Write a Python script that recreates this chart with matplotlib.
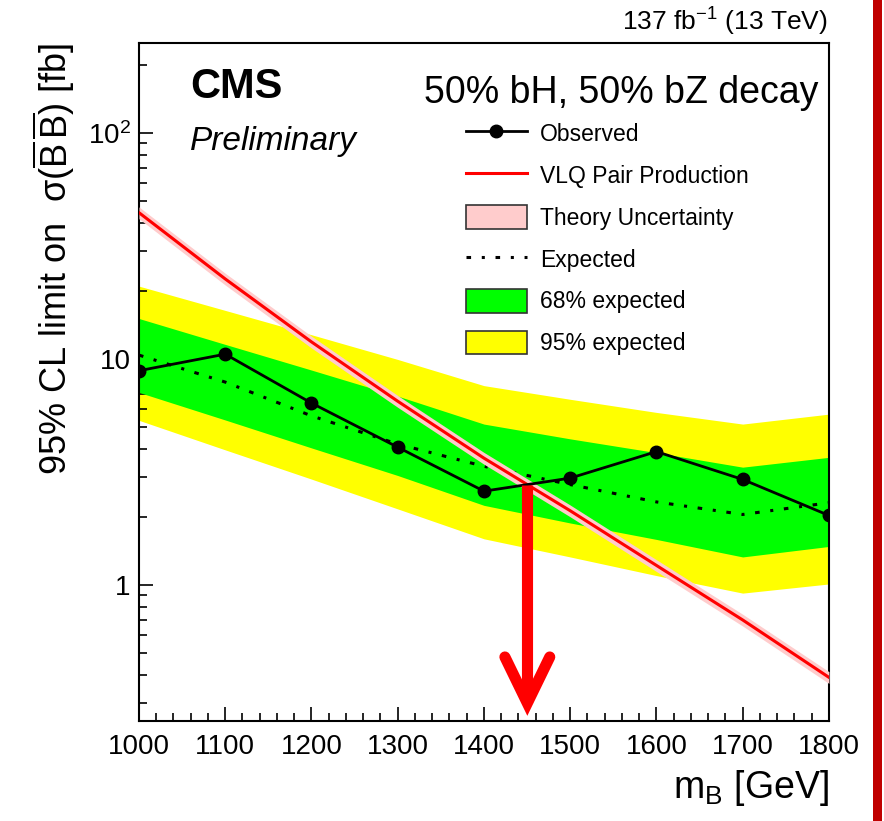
import numpy as np
import matplotlib
matplotlib.use("Agg")
import matplotlib.pyplot as plt
from matplotlib.lines import Line2D
from matplotlib.patches import Patch, Rectangle
from matplotlib.ticker import MultipleLocator, LogLocator, NullFormatter

plt.rcParams['font.family'] = ['Liberation Sans', 'DejaVu Sans']
plt.rcParams['mathtext.fontset'] = 'custom'
plt.rcParams['mathtext.rm'] = 'Liberation Sans'
plt.rcParams['mathtext.it'] = 'Liberation Sans:italic'
plt.rcParams['mathtext.bf'] = 'Liberation Sans:bold'

# B quark mass points [GeV]
masses = [1000, 1100, 1200, 1300, 1400, 1500, 1600, 1700, 1800]
# limits in fb
observed = [8.87, 10.5, 6.38, 4.07, 2.60, 2.97, 3.89, 2.93, 2.03]
expected = [10.4, 7.9, 5.6, 4.2, 3.35, 2.78, 2.33, 2.05, 2.31]
band68_lo = [7.11, 5.37, 4.04, 3.05, 2.25, 1.88, 1.59, 1.33, 1.48]
band68_hi = [15.1, 11.6, 8.93, 6.85, 5.15, 4.43, 3.85, 3.32, 3.67]
band95_lo = [5.35, 3.96, 2.94, 2.17, 1.60, 1.33, 1.10, 0.92, 1.01]
band95_hi = [21.0, 16.4, 12.8, 9.95, 7.62, 6.63, 5.80, 5.15, 5.70]
theory = [44.4, 22.6, 11.9, 6.5, 3.64, 2.13, 1.22, 0.70, 0.39]
theory_unc = 0.06  # relative

m = np.array(masses, dtype=float)
obs = np.array(observed)
th = np.array(theory)

fig = plt.figure(figsize=(8.84, 8.21), dpi=100)
ax = fig.add_axes([0.1572, 0.1218, 0.7805, 0.8258])

# bands
ax.fill_between(m, band95_lo, band95_hi, color='#ffff00', lw=0, zorder=1)
ax.fill_between(m, band68_lo, band68_hi, color='#00ff00', lw=0, zorder=2)
ax.plot(m, expected, color='black', lw=2.2, ls=(0, (1.5, 3.5, 1, 3.5)), zorder=3)

# theory
ax.fill_between(m, th * (1 - theory_unc), th * (1 + theory_unc), color='#ffcccc', lw=0, zorder=4)
ax.plot(m, th, color='#ff0000', lw=2.2, zorder=5)

# observed
ax.plot(m, obs, color='black', lw=2.0, marker='o', ms=9, zorder=6)

# crossing of observed and theory (log-linear interpolation)
d = np.log(obs) - np.log(th)
i = np.where((d[:-1] < 0) & (d[1:] > 0))[0][0]
f = -d[i] / (d[i + 1] - d[i])
x_lim = m[i] + f * (m[i + 1] - m[i])
y_lim = np.exp(np.log(obs[i]) + f * (np.log(obs[i + 1]) - np.log(obs[i])))
arrow_tip = 0.30
head_y = 0.48
head_dx = 26
ax.plot([x_lim, x_lim], [y_lim, arrow_tip], color='#ff0000', lw=8, solid_capstyle='butt', zorder=7)
ax.plot([x_lim - head_dx, x_lim, x_lim + head_dx], [head_y, arrow_tip, head_y],
        color='#ff0000', lw=8, solid_capstyle='round', solid_joinstyle='miter', zorder=7)

ax.set_yscale('log')
ax.set_xlim(1000, 1800)
ax.set_ylim(0.25, 250)

ax.xaxis.set_major_locator(MultipleLocator(100))
ax.xaxis.set_minor_locator(MultipleLocator(20))
ax.set_yticks([1, 10, 100], ['1', '10', r'$10^2$'])
ax.yaxis.set_minor_locator(LogLocator(base=10, subs=np.arange(2, 10)))
ax.yaxis.set_minor_formatter(NullFormatter())

ax.tick_params(which='both', direction='in', top=False, right=False, width=1.2, labelsize=20)
ax.tick_params(which='major', length=10)
ax.tick_params(which='minor', length=5.5)
ax.tick_params(axis='x', pad=9)
ax.tick_params(axis='y', pad=6)
for s in ax.spines.values():
    s.set_linewidth(1.5)

ax.set_xlabel(r'm$_{\mathrm{B}}$ [GeV]', fontsize=27, loc='right', labelpad=6)
ax.set_ylabel(r'95% CL limit on  σ($\overline{\mathrm{B}}\,\overline{\mathrm{B}}$) [fb]',
              fontsize=26, loc='top', labelpad=8)

ax.text(0.074, 0.919, 'CMS', transform=ax.transAxes, fontsize=30, fontweight='bold', va='baseline')
ax.text(0.074, 0.842, 'Preliminary', transform=ax.transAxes, fontsize=24, style='italic', va='baseline')
ax.text(0.984, 0.9115, '50% bH, 50% bZ decay', transform=ax.transAxes, fontsize=27,
        ha='right', va='baseline')
ax.text(0.9986, 1.019, r'137 fb$^{-1}$ (13 TeV)', transform=ax.transAxes, fontsize=19,
        ha='right', va='baseline')

handles = [
    Line2D([], [], color='black', lw=2.0, marker='o', ms=9),
    Line2D([], [], color='#ff0000', lw=2.2),
    Patch(facecolor='#ffcccc', edgecolor='#333333', lw=1.2),
    Line2D([], [], color='black', lw=2.2, ls=(0, (1.5, 3.5, 1, 3.5))),
    Patch(facecolor='#00ff00', edgecolor='#333333', lw=1.2),
    Patch(facecolor='#ffff00', edgecolor='#333333', lw=1.2),
]
labels = ['Observed', 'VLQ Pair Production', 'Theory Uncertainty', 'Expected',
          '68% expected', '95% expected']
ax.legend(handles, labels, loc='upper left', bbox_to_anchor=(0.474, 0.884), frameon=False,
          fontsize=16.5, handlelength=2.65, handleheight=1.22, handletextpad=0.57,
          labelspacing=0.75, borderpad=0, borderaxespad=0, numpoints=1)

# slide border stripe on the right
fig.add_artist(Rectangle((873 / 884, 0), 9 / 884, 1, transform=fig.transFigure,
                         color='#c00000', lw=0))

fig.savefig('out.png', dpi=100)
